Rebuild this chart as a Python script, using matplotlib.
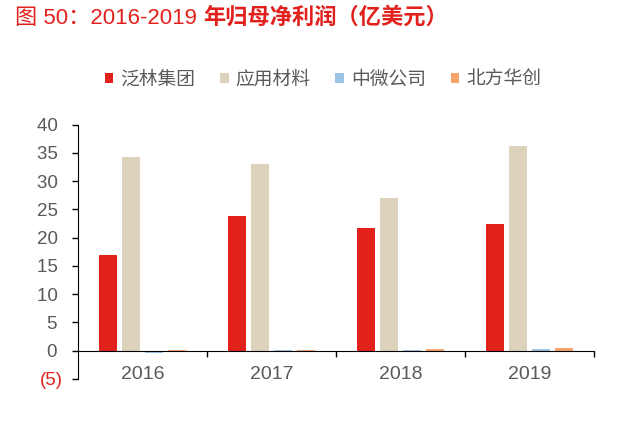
import numpy as np
import matplotlib
matplotlib.use('Agg')
import matplotlib.pyplot as plt
from matplotlib.ticker import FixedLocator

plt.rcParams['font.family'] = ['Liberation Sans', 'Noto Sans CJK SC']

# Data (亿美元)
years = ['2016', '2017', '2018', '2019']
lam = [16.9, 23.9, 21.8, 22.5]          # 泛林集团
amat = [34.3, 33.1, 27.1, 36.3]         # 应用材料
amec = [-0.35, 0.05, 0.14, 0.27]        # 中微公司
naura = [0.14, 0.19, 0.35, 0.45]        # 北方华创
names = ['泛林集团', '应用材料', '中微公司', '北方华创']
colors = ['#E2211C', '#DDD3BC', '#9DC3E6', '#F6A46A']
yticks = [-5, 0, 5, 10, 15, 20, 25, 30, 35, 40]

fig = plt.figure(figsize=(6.4, 4.22), dpi=100)
ax = fig.add_axes([0.122, 0.102, 0.806, 0.6025])

x = np.arange(len(years))
w = 0.14
step = 0.178
series = [lam, amat, amec, naura]
for i, (vals, name, c) in enumerate(zip(series, names, colors)):
    ax.bar(x + (i - 1.5) * step, vals, width=w, color=c, label=name, zorder=2)

ax.set_xlim(-0.5, 3.5)
ax.set_ylim(-5, 40)

for s in ['top', 'right']:
    ax.spines[s].set_visible(False)
ax.spines['bottom'].set_position(('data', 0))
ax.spines['bottom'].set_zorder(3)
ax.spines['left'].set_bounds(-5, 40)

gray = '#595959'
red = '#E2211C'
ax.set_yticks(yticks)
# positive labels keep room for the ")" like the Excel number format
ax.set_yticklabels(['(5)' if v < 0 else str(v) + ' ' for v in yticks], fontsize=13.5, color=gray)
ax.get_yticklabels()[0].set_color(red)
ax.tick_params(axis='y', direction='out', length=4, width=1, pad=7)

ax.set_xticks(x)
ax.set_xticklabels(years, fontsize=14, color=gray)
ax.tick_params(axis='x', which='major', length=0, pad=11)
ax.xaxis.set_minor_locator(FixedLocator([0.5, 1.5, 2.5, 3.5]))
ax.tick_params(axis='x', which='minor', direction='out', length=4, width=1)

fig.legend(loc='center', bbox_to_anchor=(323 / 640, 1 - 80 / 422), ncol=4,
           frameon=False, fontsize=13.5, handlelength=0.45, handleheight=0.45,
           handletextpad=0.37, columnspacing=1.33, labelcolor=gray)

t1 = fig.text(15 / 640, 1 - 18 / 422, '图 50：2016-2019 ', color=red, fontsize=16,
              ha='left', va='center')
fig.canvas.draw()
bb = t1.get_window_extent()
fig.text(bb.x1 / fig.bbox.width, 1 - 18 / 422, '年归母净利润（亿美元）', color=red,
         fontsize=16, fontweight='bold', ha='left', va='center')

fig.savefig('out.png', dpi=100)
